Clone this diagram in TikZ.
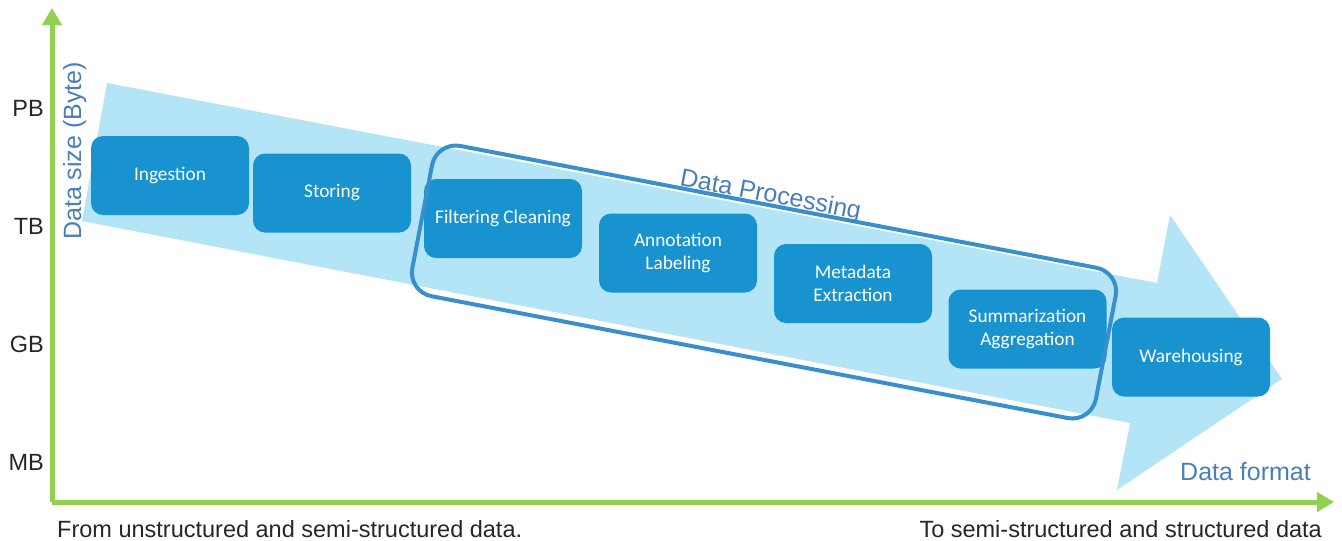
\documentclass[tikz,border=0pt]{standalone}
\usepackage{fontspec}
\setmainfont{Liberation Sans}
\newfontfamily\carlito{Carlito}
\usetikzlibrary{arrows.meta}
\definecolor{arrowblue}{RGB}{179,229,247}
\definecolor{boxblue}{RGB}{25,147,208}
\definecolor{outlineblue}{RGB}{55,144,205}
\definecolor{labelblue}{RGB}{74,126,187}
\definecolor{axisgreen}{RGB}{146,208,80}
\definecolor{labelgray}{RGB}{38,38,38}
\tikzset{
  stepbox/.style={fill=boxblue, rounded corners=12pt, minimum width=158pt, minimum height=79pt,
    text=white, font=\carlito\fontsize{19.3}{22.5}\selectfont, align=center, inner sep=0pt},
  axislabel/.style={text=labelgray, font=\fontsize{23.5}{28}\selectfont, inner sep=0pt},
  bluelabel/.style={text=labelblue, font=\fontsize{25}{30}\selectfont, inner sep=0pt},
  axisline/.style={draw=axisgreen, line width=5pt, -{Triangle[length=17pt,width=19pt]}},
}
\begin{document}
\begin{tikzpicture}[x=1pt,y=-1pt]
\useasboundingbox (0,0) rectangle (1342,541);
% big light arrow
\fill[arrowblue] (107,83) -- (1157,283) -- (1170,215) -- (1282,379) -- (1117,490) -- (1130,423) -- (82,221) -- cycle;
% axes
\coordinate (origin) at (52,502);
\coordinate (ytip) at (52,8);
\coordinate (xtip) at (1334,502);
\draw[axisline] (origin) -- (ytip);
\draw[axisline] (origin) -- (xtip);
% axis labels
\node[axislabel, anchor=east] (pb) at (44,108.5) {PB};
\node[axislabel, anchor=east] (tb) at (44,226.5) {TB};
\node[axislabel, anchor=east] (gb) at (44,344.5) {GB};
\node[axislabel, anchor=east] (mb) at (44,462.5) {MB};
\node[axislabel, anchor=base west] (from) at (57,537) {From unstructured and semi-structured data.};
\node[axislabel, anchor=base east] (to) at (1322,537) {To semi-structured and structured data};
\node[bluelabel, anchor=base west, rotate=90] (ysize) at (81,240) {Data size (Byte)};
\node[bluelabel, anchor=base west] (xformat) at (1180,480) {Data format};
% steps
\node[stepbox] (ingest) at (170,175.5) {Ingestion};
\node[stepbox] (store) at (332,193) {Storing};
\node[stepbox] (filter) at (503,218.5) {Filtering Cleaning};
\node[stepbox] (annot) at (678,253) {Annotation\\Labeling};
\node[stepbox] (meta) at (853,283.5) {Metadata\\Extraction};
\node[stepbox] (summ) at (1027.5,329) {Summarization\\Aggregation};
\node[stepbox] (ware) at (1191,357) {Warehousing};
% data processing group
\node[draw=outlineblue, line width=4pt, rounded corners=24pt, minimum width=696pt, minimum height=153pt, rotate=-10.84, inner sep=0pt] (dp) at (764,282) {};
\node[bluelabel, anchor=base west, rotate=-10.8] (dplabel) at (679,185) {Data Processing};
\end{tikzpicture}
\end{document}
